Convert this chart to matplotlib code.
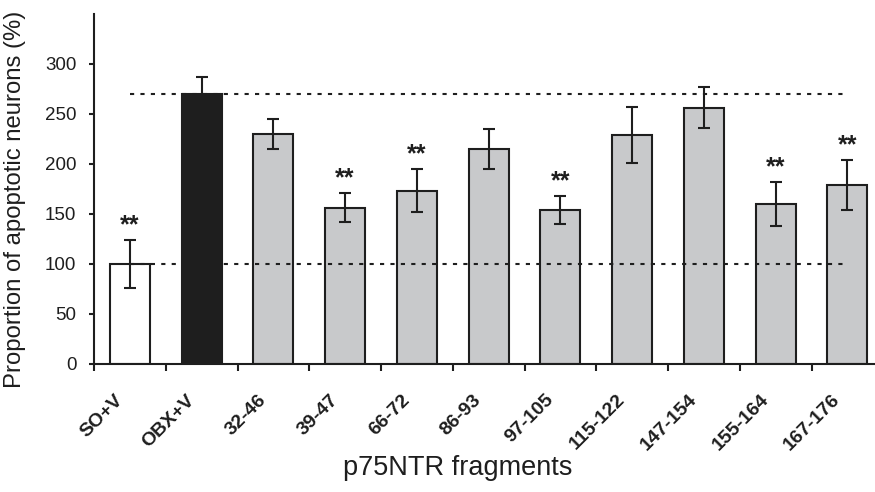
import numpy as np
import matplotlib
matplotlib.use('Agg')
import matplotlib.pyplot as plt
from matplotlib.transforms import ScaledTranslation

plt.rcParams['font.family'] = ['Liberation Sans', 'DejaVu Sans']

# data
groups = ['SO+V', 'OBX+V', '32-46', '39-47', '66-72', '86-93', '97-105',
          '115-122', '147-154', '155-164', '167-176']
means = [100, 270, 230, 156, 173, 215, 154, 229, 256, 160, 179]
errs = [24, 17, 15, 14.5, 21.5, 20, 14, 28, 20.5, 22, 25]
signif = [True, False, False, True, True, False, True, False, False, True, True]
ref_lines = [100, 270]

colors = ['white', '#1e1e1e'] + ['#c8c9cb'] * 9
ink = '#1e1e1e'

fig = plt.figure(figsize=(8.75, 4.92), dpi=100)
ax = fig.add_axes([94 / 875, 128 / 492, 781 / 875, 350 / 492])

x = np.arange(len(groups))
ax.bar(x, means, width=0.56, color=colors, edgecolor=ink, linewidth=1.5, zorder=2)
ax.errorbar(x, means, yerr=errs, fmt='none', ecolor=ink, elinewidth=1.5,
            capsize=4.5, capthick=1.5, zorder=3)

for v in ref_lines:
    ax.hlines(v, x[0], x[-1], colors=ink, linestyles=(0, (2, 3)), lw=1.5, zorder=4)

for i in range(len(groups)):
    if signif[i]:
        ax.text(x[i], means[i] + errs[i] + 8, '**', ha='center', va='baseline',
                fontsize=18, fontweight='bold', color=ink)

ax.set_xlim(-0.5, -0.5 + 781 / 71.75)
ax.set_ylim(0, 350)
ax.set_yticks(range(0, 301, 50))

for s in ['top', 'right']:
    ax.spines[s].set_visible(False)
for s in ['left', 'bottom']:
    ax.spines[s].set_linewidth(1.5)
    ax.spines[s].set_color(ink)

ax.tick_params(axis='y', length=3.6, width=1.5, colors=ink, labelsize=13.5, pad=9)
ax.set_xticks(x)
ax.set_xticklabels(groups, rotation=45, ha='right', va='center',
                   rotation_mode='anchor', fontsize=14, fontweight='bold')
ax.tick_params(axis='x', which='major', length=0, pad=24, colors=ink)
ax.set_xticks(np.arange(-0.5, 10, 1), minor=True)
ax.tick_params(axis='x', which='minor', length=5, width=1.5, color=ink)

off = ScaledTranslation(-7 / 72, 0, fig.dpi_scale_trans)
for lab in ax.get_xticklabels():
    lab.set_transform(lab.get_transform() + off)

ax.set_ylabel('Proportion of apoptotic neurons (%)', fontsize=17.2, color=ink)
ax.yaxis.set_label_coords(-0.087, 0.47)
fig.text(458 / 875, 1 - 468 / 492, 'p75NTR fragments', ha='center', va='center',
         fontsize=19.5, color=ink)

fig.savefig('out.png', dpi=100)
